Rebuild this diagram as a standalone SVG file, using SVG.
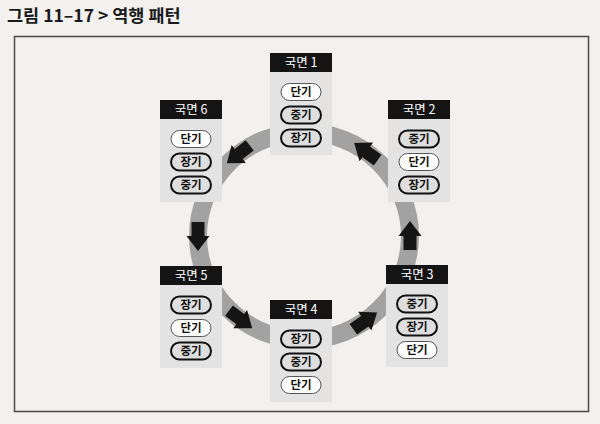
<svg xmlns="http://www.w3.org/2000/svg" width="600" height="424" viewBox="0 0 600 424">
<defs>
<style>
.bg{fill:#f2f1f0}
.frame{fill:none;stroke:#4a4a4a;stroke-width:1.5}
.title{font-family:"Noto Sans CJK KR","Noto Sans",sans-serif;font-weight:700;font-size:17.5px;fill:#1a1a1a}
.hd{fill:#141414}
.body{fill:#e3e3e3}
.ht{font-family:"Noto Sans CJK KR","Noto Sans",sans-serif;font-size:12.5px;fill:#fff;text-anchor:middle}
.pw{fill:#fff;stroke:#555;stroke-width:1}
.pg{fill:#dedede;stroke:#111;stroke-width:2}
.pt{font-family:"Noto Sans CJK KR","Noto Sans",sans-serif;font-size:11.5px;font-weight:700;fill:#111;text-anchor:middle}
.ring{fill:none;stroke:#a2a2a2;stroke-width:18}
.arr{fill:#151515}
</style>
<polygon id="ar" points="-14,-6.5 0,-6.5 0,-11.5 15,0 0,11.5 0,6.5 -14,6.5"/>
</defs>
<rect class="bg" x="0" y="0" width="600" height="424"/>
<text class="title" x="7" y="22">그림 11–17 &gt; 역행 패턴</text>
<rect class="frame" x="14.5" y="36.5" width="574" height="375"/>
<g id="connectors">
<ellipse class="ring" cx="304" cy="236" rx="106" ry="104"/>
<use href="#ar" class="arr" transform="translate(238.7,154) rotate(142)"/>
<use href="#ar" class="arr" transform="translate(198,236) rotate(90)"/>
<use href="#ar" class="arr" transform="translate(240.2,319.1) rotate(37)"/>
<use href="#ar" class="arr" transform="translate(364.8,321.2) rotate(-35)"/>
<use href="#ar" class="arr" transform="translate(410,236) rotate(-90)"/>
<use href="#ar" class="arr" transform="translate(366.3,151.9) rotate(-144)"/>
</g>
<g id="phase1" transform="translate(270,53)">
<rect class="body" x="0" y="19" width="62" height="83"/>
<rect class="hd" x="0" y="0" width="62" height="19"/>
<text class="ht" x="31" y="14">국면 1</text>
<rect class="pw" x="11" y="30.5" width="40" height="17" rx="8.5"/><text class="pt" x="31" y="43">단기</text>
<rect class="pg" x="11" y="53.5" width="40" height="17" rx="8.5"/><text class="pt" x="31" y="66">중기</text>
<rect class="pg" x="11" y="76.5" width="40" height="17" rx="8.5"/><text class="pt" x="31" y="89">장기</text>
</g>
<g id="phase2" transform="translate(388,100)">
<rect class="body" x="0" y="19" width="62" height="83"/>
<rect class="hd" x="0" y="0" width="62" height="19"/>
<text class="ht" x="31" y="14">국면 2</text>
<rect class="pg" x="11" y="30.5" width="40" height="17" rx="8.5"/><text class="pt" x="31" y="43">중기</text>
<rect class="pw" x="11" y="53.5" width="40" height="17" rx="8.5"/><text class="pt" x="31" y="66">단기</text>
<rect class="pg" x="11" y="76.5" width="40" height="17" rx="8.5"/><text class="pt" x="31" y="89">장기</text>
</g>
<g id="phase3" transform="translate(386,265)">
<rect class="body" x="0" y="19" width="62" height="83"/>
<rect class="hd" x="0" y="0" width="62" height="19"/>
<text class="ht" x="31" y="14">국면 3</text>
<rect class="pg" x="11" y="30.5" width="40" height="17" rx="8.5"/><text class="pt" x="31" y="43">중기</text>
<rect class="pg" x="11" y="53.5" width="40" height="17" rx="8.5"/><text class="pt" x="31" y="66">장기</text>
<rect class="pw" x="11" y="76.5" width="40" height="17" rx="8.5"/><text class="pt" x="31" y="89">단기</text>
</g>
<g id="phase4" transform="translate(270,300)">
<rect class="body" x="0" y="19" width="62" height="83"/>
<rect class="hd" x="0" y="0" width="62" height="19"/>
<text class="ht" x="31" y="14">국면 4</text>
<rect class="pg" x="11" y="30.5" width="40" height="17" rx="8.5"/><text class="pt" x="31" y="43">장기</text>
<rect class="pg" x="11" y="53.5" width="40" height="17" rx="8.5"/><text class="pt" x="31" y="66">중기</text>
<rect class="pw" x="11" y="76.5" width="40" height="17" rx="8.5"/><text class="pt" x="31" y="89">단기</text>
</g>
<g id="phase5" transform="translate(160,266)">
<rect class="body" x="0" y="19" width="62" height="83"/>
<rect class="hd" x="0" y="0" width="62" height="19"/>
<text class="ht" x="31" y="14">국면 5</text>
<rect class="pg" x="11" y="30.5" width="40" height="17" rx="8.5"/><text class="pt" x="31" y="43">장기</text>
<rect class="pw" x="11" y="53.5" width="40" height="17" rx="8.5"/><text class="pt" x="31" y="66">단기</text>
<rect class="pg" x="11" y="76.5" width="40" height="17" rx="8.5"/><text class="pt" x="31" y="89">중기</text>
</g>
<g id="phase6" transform="translate(160,100)">
<rect class="body" x="0" y="19" width="62" height="83"/>
<rect class="hd" x="0" y="0" width="62" height="19"/>
<text class="ht" x="31" y="14">국면 6</text>
<rect class="pw" x="11" y="30.5" width="40" height="17" rx="8.5"/><text class="pt" x="31" y="43">단기</text>
<rect class="pg" x="11" y="53.5" width="40" height="17" rx="8.5"/><text class="pt" x="31" y="66">장기</text>
<rect class="pg" x="11" y="76.5" width="40" height="17" rx="8.5"/><text class="pt" x="31" y="89">중기</text>
</g>
</svg>
